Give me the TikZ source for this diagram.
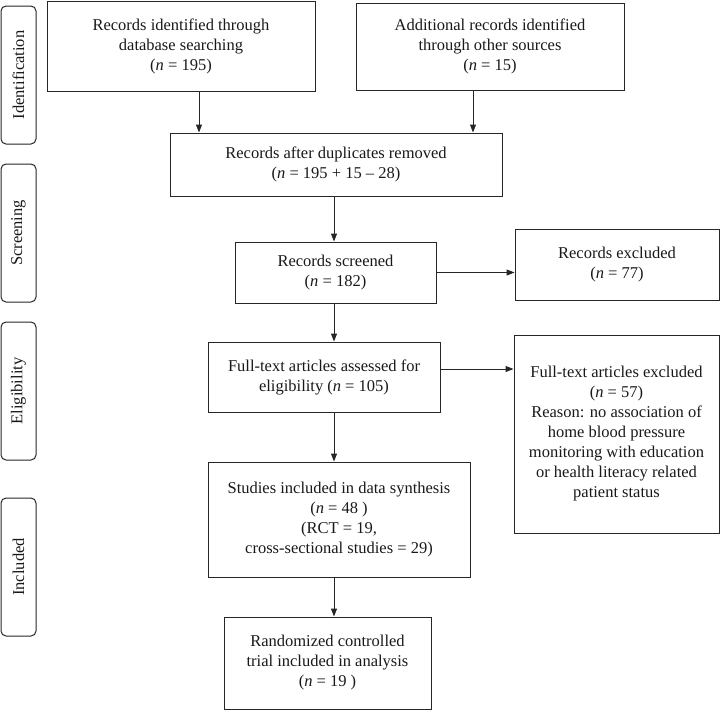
\documentclass[tikz,border=0pt]{standalone}
\usepackage{fontspec}
\setmainfont{Liberation Serif}
\usetikzlibrary{arrows.meta}
\begin{document}
\begin{tikzpicture}[x=1pt,y=-1pt,
  box/.style={draw=black!85, line width=1pt, inner sep=0pt, align=center, text=black!90, font=\fontsize{16.5}{20}\selectfont},
  side/.style={draw=black!85, line width=1pt, rounded corners=5pt, inner sep=0pt, minimum width=138pt, minimum height=35pt, rotate=90, text=black!90, font=\fontsize{16.5}{20}\selectfont},
  arr/.style={draw=black!85, line width=1pt, -{Triangle[length=8pt,width=6pt]}}]
\useasboundingbox (0,0) rectangle (721,710);

\node[side] (s1) at (18.5,75) {Identification};
\node[side] (s2) at (18.5,233) {Screening};
\node[side] (s3) at (18.5,391) {Eligibility};
\node[side] (s4) at (18.5,567) {Included};

\node[box, minimum width=268pt, minimum height=90pt] (A) at (181,46)
  {Records identified through\\database searching\\(\textit{n} = 195)};
\node[box, minimum width=268pt, minimum height=87pt] (B) at (490,46.5)
  {Additional records identified\\through other sources\\(\textit{n} = 15)};
\node[box, minimum width=332pt, minimum height=63pt] (C) at (336,164.5)
  {Records after duplicates removed\\(\textit{n} = 195 + 15 -- 28)};
\node[box, minimum width=201pt, minimum height=61pt] (D) at (335.5,272.5)
  {Records screened\\(\textit{n} = 182)};
\node[box, minimum width=204pt, minimum height=71pt] (E) at (617,264.5)
  {Records excluded\\(\textit{n} = 77)};
\node[box, minimum width=232pt, minimum height=70pt] (F) at (324,377)
  {Full-text articles assessed for\\eligibility (\textit{n} = 105)};
\node[box, minimum width=205pt, minimum height=198pt] (H) at (616.5,434)
  {Full-text articles excluded\\(\textit{n} = 57)\\Reason: no association of\\home blood pressure\\monitoring with education\\or health literacy related\\patient status};
\node[box, minimum width=262pt, minimum height=115pt] (G) at (339,519.5)
  {Studies included in data synthesis\\(\textit{n} = 48 )\\(RCT = 19,\\cross-sectional studies = 29)};
\node[box, minimum width=207pt, minimum height=92pt] (I) at (327.5,663)
  {Randomized controlled\\trial included in analysis\\(\textit{n} = 19 )};

\draw[arr] ([xshift=18pt]A.south) -- ([xshift=18pt]A.south |- C.north);
\draw[arr] ([xshift=-17pt]B.south) -- ([xshift=-17pt]B.south |- C.north);
\draw[arr] ([xshift=-1.5pt]D.north |- C.south) -- ([xshift=-1.5pt]D.north);
\draw[arr] (D.east) -- (D.east -| E.west);
\draw[arr] ([xshift=-1.5pt]D.south) -- ([xshift=-1.5pt]D.south |- F.north);
\draw[arr] ([yshift=8pt]F.east) -- ([yshift=8pt]F.east -| H.west);
\draw[arr] ([xshift=10pt]F.south) -- ([xshift=10pt]F.south |- G.north);
\draw[arr] ([xshift=-5pt]G.south) -- ([xshift=-5pt]G.south |- I.north);
\end{tikzpicture}
\end{document}
